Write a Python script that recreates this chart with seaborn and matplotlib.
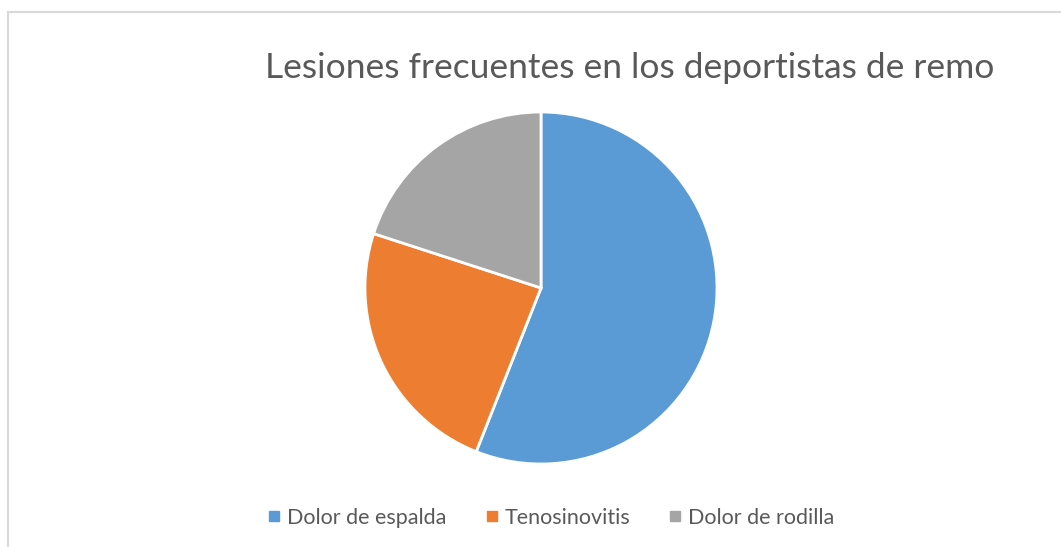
import matplotlib
matplotlib.use("Agg")
import matplotlib.pyplot as plt
import seaborn as sns
from matplotlib.patches import Rectangle
from matplotlib.lines import Line2D

categories = ["Dolor de espalda", "Tenosinovitis", "Dolor de rodilla"]
values = [14, 6, 5]
colors = ["#5B9BD5", "#ED7D31", "#A5A5A5"]
title = "Lesiones frecuentes en los deportistas de remo"

sns.set_theme(style="white")
plt.rcParams['font.family'] = ['Lato', 'DejaVu Sans']
text_color = "#595959"

fig = plt.figure(figsize=(10.61, 5.47), dpi=100)
W, H = 1061, 547

# chart border
fig.patches.append(Rectangle((8 / W, -0.1), 1.2, 1 - 12 / H + 0.1,
                             transform=fig.transFigure, fill=False,
                             edgecolor="#D9D9D9", linewidth=1.5))

cx, cy, r = 541, 288, 176
ax = fig.add_axes([(cx - r) / W, (H - cy - r) / H, 2 * r / W, 2 * r / H])
ax.pie(values, colors=colors, startangle=90, counterclock=False,
       wedgeprops=dict(edgecolor="white", linewidth=2), radius=1)
ax.set_xlim(-1, 1)
ax.set_ylim(-1, 1)
ax.set_aspect("equal")
ax.axis("off")

fig.text(630 / W, 1 - 68 / H, title, ha="center", va="center",
         fontsize=25.5, color=text_color)

handles = [Line2D([0], [0], marker="s", linestyle="", markersize=7,
                  markerfacecolor=c, markeredgecolor=c) for c in colors]
leg = fig.legend(handles, categories, loc="center", ncol=3,
                 bbox_to_anchor=(549 / W, 1 - 518 / H), frameon=False,
                 fontsize=15.5, handletextpad=0.1, columnspacing=1.6,
                 handlelength=1.0)
for t in leg.get_texts():
    t.set_color(text_color)

fig.savefig("out.png", dpi=100)
